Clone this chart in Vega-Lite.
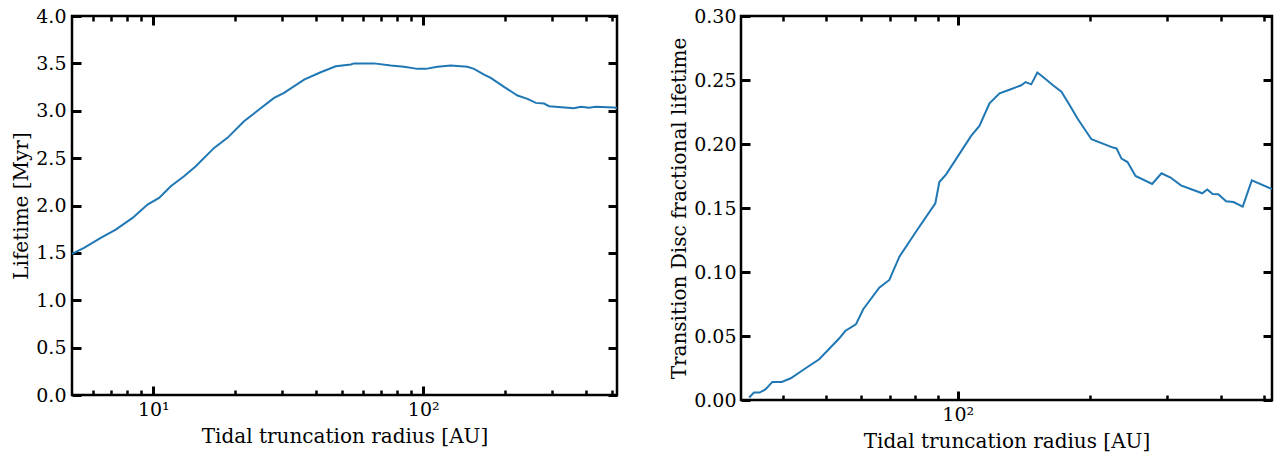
{
  "$schema": "https://vega.github.io/schema/vega-lite/v6.json",
  "background": "white",
  "padding": {"left": 10, "top": 5, "right": 0, "bottom": 0},
  "spacing": 45,
  "config": {
    "font": "DejaVu Serif",
    "view": {"stroke": "black", "strokeWidth": 2.5},
    "axis": {"domain": false, "grid": false, "tickColor": "black", "tickWidth": 3, "labelFont": "DejaVu Serif", "titleFont": "DejaVu Serif", "labelFontSize": 19, "titleFontSize": 20, "titleFontWeight": "normal", "labelColor": "black", "titleColor": "black", "labelFlush": false, "labelOverlap": false}
  },
  "datasets": {
    "life": [
      {"radius": 5, "lifetime": 1.49}, {"radius": 5.54, "lifetime": 1.552}, {"radius": 6.39, "lifetime": 1.658}, {"radius": 7.26, "lifetime": 1.746}, {"radius": 8.38, "lifetime": 1.869}, {"radius": 9.52, "lifetime": 2.01}, {"radius": 10.51, "lifetime": 2.08}, {"radius": 11.61, "lifetime": 2.203}, {"radius": 13.0, "lifetime": 2.308}, {"radius": 14.37, "lifetime": 2.414}, {"radius": 16.8, "lifetime": 2.608}, {"radius": 18.83, "lifetime": 2.714}, {"radius": 21.69, "lifetime": 2.889}, {"radius": 24.65, "lifetime": 3.013}, {"radius": 28.02, "lifetime": 3.136}, {"radius": 30.5, "lifetime": 3.189}, {"radius": 36.2, "lifetime": 3.329}, {"radius": 41.7, "lifetime": 3.406}, {"radius": 47.4, "lifetime": 3.47}, {"radius": 53.9, "lifetime": 3.488}, {"radius": 55.4, "lifetime": 3.5}, {"radius": 65.7, "lifetime": 3.5}, {"radius": 75.8, "lifetime": 3.477}, {"radius": 84.9, "lifetime": 3.464}, {"radius": 95.2, "lifetime": 3.442}, {"radius": 102.2, "lifetime": 3.442}, {"radius": 112.9, "lifetime": 3.464}, {"radius": 126.4, "lifetime": 3.477}, {"radius": 145.8, "lifetime": 3.464}, {"radius": 154.2, "lifetime": 3.442}, {"radius": 168.0, "lifetime": 3.382}, {"radius": 177.8, "lifetime": 3.347}, {"radius": 199.2, "lifetime": 3.252}, {"radius": 223.4, "lifetime": 3.161}, {"radius": 243.2, "lifetime": 3.126}, {"radius": 261.1, "lifetime": 3.083}, {"radius": 280.2, "lifetime": 3.076}, {"radius": 292.4, "lifetime": 3.048}, {"radius": 361.9, "lifetime": 3.026}, {"radius": 383.1, "lifetime": 3.041}, {"radius": 411.3, "lifetime": 3.031}, {"radius": 435.5, "lifetime": 3.041}, {"radius": 509, "lifetime": 3.034}, {"radius": 522, "lifetime": 3.03}
    ],
    "frac": [
      {"radius": 33.4, "fraction": 0.002}, {"radius": 34.26, "fraction": 0.0058}, {"radius": 35.3, "fraction": 0.0058}, {"radius": 36.44, "fraction": 0.0084}, {"radius": 37.73, "fraction": 0.0141}, {"radius": 39.64, "fraction": 0.0141}, {"radius": 41.57, "fraction": 0.017}, {"radius": 44.59, "fraction": 0.024}, {"radius": 48.27, "fraction": 0.0318}, {"radius": 53.6, "fraction": 0.048}, {"radius": 55.34, "fraction": 0.0539}, {"radius": 58.55, "fraction": 0.0591}, {"radius": 60.85, "fraction": 0.0709}, {"radius": 66.2, "fraction": 0.0878}, {"radius": 69.8, "fraction": 0.0938}, {"radius": 73.6, "fraction": 0.112}, {"radius": 81.0, "fraction": 0.1334}, {"radius": 88.9, "fraction": 0.1537}, {"radius": 90.8, "fraction": 0.1703}, {"radius": 94.1, "fraction": 0.1763}, {"radius": 107.3, "fraction": 0.2063}, {"radius": 112.1, "fraction": 0.2141}, {"radius": 118.2, "fraction": 0.2318}, {"radius": 124.6, "fraction": 0.2396}, {"radius": 130.8, "fraction": 0.2422}, {"radius": 139.7, "fraction": 0.2459}, {"radius": 142.9, "fraction": 0.2484}, {"radius": 147.2, "fraction": 0.2466}, {"radius": 152.0, "fraction": 0.2558}, {"radius": 157.9, "fraction": 0.2513}, {"radius": 165.0, "fraction": 0.2459}, {"radius": 172.5, "fraction": 0.2409}, {"radius": 180.2, "fraction": 0.2302}, {"radius": 188.2, "fraction": 0.2193}, {"radius": 202.0, "fraction": 0.2037}, {"radius": 226.3, "fraction": 0.1972}, {"radius": 230.4, "fraction": 0.1966}, {"radius": 236.6, "fraction": 0.1886}, {"radius": 244.2, "fraction": 0.1859}, {"radius": 254.7, "fraction": 0.175}, {"radius": 277.9, "fraction": 0.1688}, {"radius": 292.0, "fraction": 0.1771}, {"radius": 306.2, "fraction": 0.1738}, {"radius": 323.3, "fraction": 0.1677}, {"radius": 361.7, "fraction": 0.1615}, {"radius": 371.4, "fraction": 0.1644}, {"radius": 382.1, "fraction": 0.1609}, {"radius": 393.6, "fraction": 0.1607}, {"radius": 410.0, "fraction": 0.1552}, {"radius": 426.0, "fraction": 0.1547}, {"radius": 447.6, "fraction": 0.1511}, {"radius": 469.4, "fraction": 0.1716}, {"radius": 522, "fraction": 0.1648}
    ]
  },
  "hconcat": [
    {
      "width": 545,
      "height": 379,
      "data": {"name": "life"},
      "layer": [
        {
          "mark": {"type": "line", "color": "#1f77b4", "strokeWidth": 2},
          "encoding": {
            "x": {"field": "radius", "type": "quantitative", "scale": {"type": "log", "domain": [5, 522], "nice": false},
              "axis": {"orient": "bottom", "values": [10, 100], "labelExpr": "datum.value == 10 ? '10¹' : '10²'", "tickSize": -9, "labelPadding": 14, "titlePadding": 7, "title": "Tidal truncation radius [AU]"}},
            "y": {"field": "lifetime", "type": "quantitative", "scale": {"domain": [0, 4], "nice": false, "zero": false},
              "axis": {"orient": "left", "values": [0, 0.5, 1, 1.5, 2, 2.5, 3, 3.5, 4], "format": ".1f", "tickSize": -9, "labelPadding": 15, "title": "Lifetime [Myr]"}}
          }
        },
        {
          "mark": {"type": "line", "opacity": 0},
          "encoding": {
            "x": {"field": "radius", "type": "quantitative", "scale": {"type": "log", "domain": [5, 522], "nice": false},
              "axis": {"orient": "top", "values": [10, 100], "tickSize": -9, "labels": false, "title": null}},
            "y": {"field": "lifetime", "type": "quantitative", "scale": {"domain": [0, 4], "nice": false, "zero": false},
              "axis": {"orient": "right", "values": [0, 0.5, 1, 1.5, 2, 2.5, 3, 3.5, 4], "tickSize": -9, "labels": false, "title": null}}
          }
        },
        {
          "mark": {"type": "line", "opacity": 0},
          "encoding": {
            "x": {"field": "radius", "type": "quantitative", "scale": {"type": "log", "domain": [5, 522], "nice": false},
              "axis": {"orient": "bottom", "values": [6, 7, 8, 9, 20, 30, 40, 50, 60, 70, 80, 90, 200, 300, 400, 500], "tickSize": -5, "tickWidth": 2.5, "labels": false, "title": null}},
            "y": {"field": "lifetime", "type": "quantitative", "axis": null}
          }
        },
        {
          "mark": {"type": "line", "opacity": 0},
          "encoding": {
            "x": {"field": "radius", "type": "quantitative", "scale": {"type": "log", "domain": [5, 522], "nice": false},
              "axis": {"orient": "top", "values": [6, 7, 8, 9, 20, 30, 40, 50, 60, 70, 80, 90, 200, 300, 400, 500], "tickSize": -5, "tickWidth": 2.5, "labels": false, "title": null}},
            "y": {"field": "lifetime", "type": "quantitative", "axis": null}
          }
        }
      ],
      "resolve": {"axis": {"x": "independent", "y": "independent"}}
    },
    {
      "width": 531,
      "height": 384,
      "data": {"name": "frac"},
      "layer": [
        {
          "mark": {"type": "line", "color": "#1f77b4", "strokeWidth": 2},
          "encoding": {
            "x": {"field": "radius", "type": "quantitative", "scale": {"type": "log", "domain": [32, 522], "nice": false},
              "axis": {"orient": "bottom", "values": [100], "labelExpr": "'10²'", "tickSize": -9, "labelPadding": 14, "titlePadding": 7, "title": "Tidal truncation radius [AU]"}},
            "y": {"field": "fraction", "type": "quantitative", "scale": {"domain": [0, 0.3], "nice": false, "zero": false},
              "axis": {"orient": "left", "values": [0, 0.05, 0.1, 0.15, 0.2, 0.25, 0.3], "format": ".2f", "tickSize": -9, "labelPadding": 14, "title": "Transition Disc fractional lifetime"}}
          }
        },
        {
          "mark": {"type": "line", "opacity": 0},
          "encoding": {
            "x": {"field": "radius", "type": "quantitative", "scale": {"type": "log", "domain": [32, 522], "nice": false},
              "axis": {"orient": "top", "values": [100], "tickSize": -9, "labels": false, "title": null}},
            "y": {"field": "fraction", "type": "quantitative", "scale": {"domain": [0, 0.3], "nice": false, "zero": false},
              "axis": {"orient": "right", "values": [0, 0.05, 0.1, 0.15, 0.2, 0.25, 0.3], "tickSize": -9, "labels": false, "title": null}}
          }
        },
        {
          "mark": {"type": "line", "opacity": 0},
          "encoding": {
            "x": {"field": "radius", "type": "quantitative", "scale": {"type": "log", "domain": [32, 522], "nice": false},
              "axis": {"orient": "bottom", "values": [40, 50, 60, 70, 80, 90, 200, 300, 400, 500], "tickSize": -5, "tickWidth": 2.5, "labels": false, "title": null}},
            "y": {"field": "fraction", "type": "quantitative", "axis": null}
          }
        },
        {
          "mark": {"type": "line", "opacity": 0},
          "encoding": {
            "x": {"field": "radius", "type": "quantitative", "scale": {"type": "log", "domain": [32, 522], "nice": false},
              "axis": {"orient": "top", "values": [40, 50, 60, 70, 80, 90, 200, 300, 400, 500], "tickSize": -5, "tickWidth": 2.5, "labels": false, "title": null}},
            "y": {"field": "fraction", "type": "quantitative", "axis": null}
          }
        }
      ],
      "resolve": {"axis": {"x": "independent", "y": "independent"}}
    }
  ]
}
